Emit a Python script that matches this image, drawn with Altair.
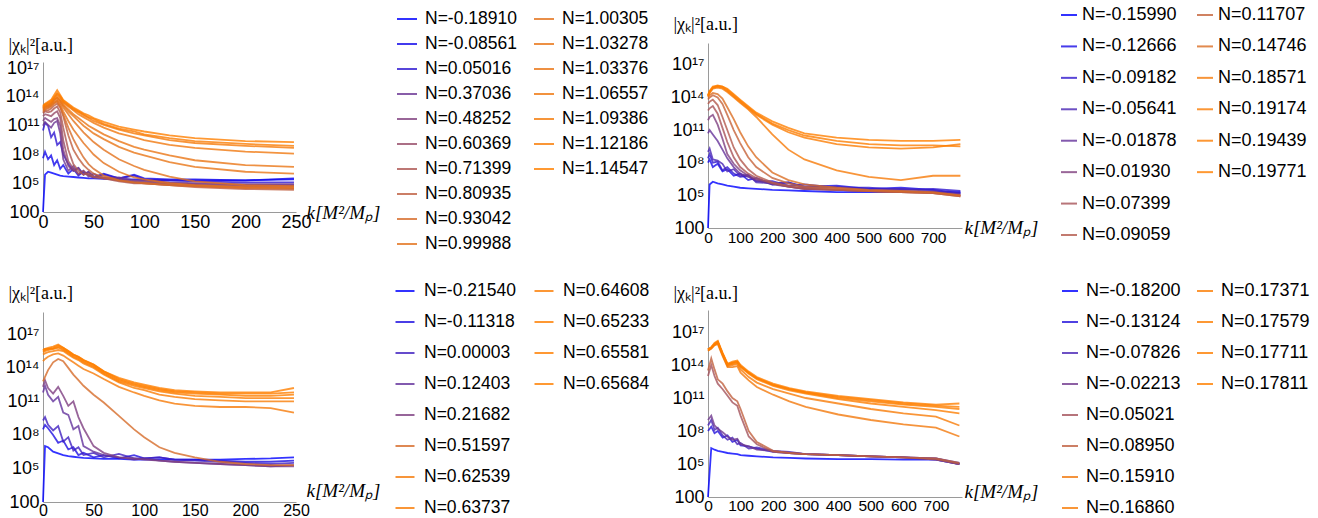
import altair as alt
import pandas as pd

FONT = "Liberation Sans"
SERIF = "Liberation Serif"

# ---------------- panel 1 (top left) ----------------
p1_N = ["-0.18910", "-0.08561", "0.05016", "0.37036", "0.48252", "0.60369", "0.71399",
        "0.80935", "0.93042", "0.99988", "1.00305", "1.03278", "1.03376", "1.06557",
        "1.09386", "1.12186", "1.14547"]
p1_k = [0, 2, 5, 8, 11, 14, 17, 20, 25, 30, 35, 40, 45, 50, 60, 75, 90, 100, 125, 150, 200, 248]
p1_log = [
    [2.0, 5.9, 6.2, 6.1, 6.0, 5.9, 5.8, 5.75, 5.7, 5.65, 5.6, 5.55, 5.5, 5.5, 5.45, 5.4, 5.4, 5.35, 5.3, 5.3, 5.3, 5.4],
    [7.6, 8.3, 7.5, 7.9, 6.9, 7.4, 6.5, 6.9, 6.0, 6.5, 5.8, 6.2, 5.9, 5.6, 6.0, 5.5, 5.9, 5.5, 5.4, 5.4, 5.3, 5.5],
    [10.5, 11.3, 11.0, 9.8, 10.3, 9.0, 9.3, 8.0, 7.0, 6.3, 6.6, 5.9, 6.2, 5.7, 5.9, 5.5, 5.8, 5.4, 5.3, 5.2, 5.1, 5.1],
    [11.0, 11.4, 11.1, 10.8, 11.3, 11.5, 10.2, 7.5, 6.3, 6.8, 5.9, 6.3, 5.7, 6.0, 5.5, 5.6, 5.3, 5.3, 5.1, 5.0, 4.9, 4.9],
    [11.5, 11.8, 11.6, 11.4, 11.7, 11.8, 11.0, 8.5, 6.8, 6.3, 6.6, 5.9, 6.2, 5.7, 5.6, 5.4, 5.2, 5.2, 5.0, 4.9, 4.8, 4.8],
    [12.0, 12.2, 12.1, 12.0, 12.3, 12.5, 11.8, 9.5, 7.3, 6.5, 6.0, 6.3, 5.8, 5.6, 5.5, 5.3, 5.1, 5.1, 4.9, 4.8, 4.7, 4.7],
    [12.3, 12.5, 12.4, 12.5, 12.8, 13.0, 12.4, 10.8, 8.5, 7.0, 6.3, 5.9, 6.0, 5.7, 5.5, 5.2, 5.0, 5.0, 4.8, 4.7, 4.6, 4.5],
    [12.4, 12.6, 12.6, 12.8, 13.1, 13.3, 12.9, 12.0, 10.0, 8.5, 7.6, 6.9, 6.4, 6.0, 5.6, 5.3, 5.1, 5.0, 4.8, 4.6, 4.4, 4.3],
    [12.5, 12.7, 12.8, 13.0, 13.3, 13.5, 13.0, 12.2, 10.8, 9.6, 8.6, 7.7, 7.0, 6.5, 5.8, 5.3, 5.1, 5.0, 4.8, 4.7, 4.5, 4.45],
    [12.6, 12.8, 12.9, 13.1, 13.4, 13.6, 13.2, 12.5, 11.5, 10.6, 9.9, 9.2, 8.6, 8.0, 7.1, 6.2, 5.6, 5.4, 5.0, 4.8, 4.6, 4.55],
    [12.7, 12.9, 13.0, 13.2, 13.5, 13.7, 13.4, 12.9, 12.2, 11.5, 10.9, 10.3, 9.8, 9.3, 8.5, 7.5, 6.8, 6.4, 5.7, 5.2, 4.8, 4.7],
    [12.8, 13.0, 13.1, 13.3, 13.7, 13.9, 13.6, 13.1, 12.5, 12.0, 11.5, 11.0, 10.6, 10.2, 9.6, 8.8, 8.2, 7.9, 7.2, 6.7, 6.2, 6.0],
    [12.8, 13.0, 13.1, 13.3, 13.7, 13.9, 13.6, 13.2, 12.7, 12.2, 11.8, 11.4, 11.0, 10.7, 10.1, 9.4, 8.8, 8.5, 7.9, 7.4, 6.9, 6.7],
    [12.9, 13.1, 13.2, 13.4, 13.8, 14.1, 13.8, 13.4, 13.0, 12.6, 12.2, 11.9, 11.6, 11.3, 10.8, 10.2, 9.8, 9.5, 9.0, 8.7, 8.3, 8.1],
    [13.0, 13.2, 13.3, 13.5, 13.9, 14.3, 14.0, 13.5, 13.1, 12.7, 12.4, 12.1, 11.8, 11.5, 11.1, 10.6, 10.2, 10.0, 9.5, 9.2, 8.9, 8.7],
    [13.0, 13.2, 13.4, 13.6, 14.0, 14.4, 14.1, 13.6, 13.2, 12.8, 12.5, 12.2, 11.9, 11.7, 11.2, 10.7, 10.4, 10.1, 9.7, 9.4, 9.1, 8.9],
    [13.1, 13.3, 13.5, 13.7, 14.2, 14.7, 14.2, 13.7, 13.3, 12.9, 12.6, 12.3, 12.1, 11.8, 11.4, 10.9, 10.6, 10.4, 10.0, 9.7, 9.4, 9.3],
]

# ---------------- panel 2 (top right) ----------------
p2_N = ["-0.15990", "-0.12666", "-0.09182", "-0.05641", "-0.01878", "0.01930", "0.07399",
        "0.09059", "0.11707", "0.14746", "0.18571", "0.19174", "0.19439", "0.19771"]
p2_k = [0, 5, 15, 30, 45, 60, 80, 100, 125, 150, 200, 250, 300, 400, 500, 600, 700, 785]
p2_log = [
    [2.0, 6.0, 6.25, 6.1, 6.0, 5.9, 5.8, 5.7, 5.65, 5.6, 5.5, 5.45, 5.4, 5.3, 5.3, 5.3, 5.3, 5.3],
    [8.0, 8.3, 7.6, 7.9, 7.2, 7.4, 6.8, 7.0, 6.4, 6.6, 6.0, 6.2, 5.8, 5.9, 5.6, 5.7, 5.5, 5.2],
    [8.4, 8.8, 8.0, 8.1, 7.3, 7.6, 7.0, 6.7, 6.8, 6.3, 6.3, 5.9, 6.0, 5.7, 5.7, 5.5, 5.6, 5.4],
    [9.0, 9.3, 8.3, 8.2, 7.9, 7.2, 7.4, 6.8, 6.9, 6.2, 6.1, 6.2, 5.7, 5.8, 5.5, 5.6, 5.4, 5.2],
    [10.7, 11.0, 10.6, 10.0, 9.2, 8.4, 7.6, 7.0, 6.7, 6.4, 6.0, 5.8, 5.6, 5.5, 5.4, 5.4, 5.3, 5.1],
    [11.9, 12.2, 12.4, 11.5, 10.2, 8.8, 7.9, 7.3, 6.8, 6.5, 6.1, 5.8, 5.6, 5.5, 5.4, 5.3, 5.3, 5.0],
    [12.8, 13.0, 13.2, 12.5, 11.2, 9.9, 8.5, 7.6, 7.0, 6.6, 6.1, 5.8, 5.6, 5.5, 5.4, 5.3, 5.2, 5.0],
    [13.4, 13.6, 13.8, 13.3, 12.2, 11.0, 9.4, 8.3, 7.4, 6.8, 6.2, 5.9, 5.7, 5.5, 5.4, 5.3, 5.2, 4.9],
    [13.8, 14.0, 14.2, 14.0, 13.4, 12.4, 11.0, 9.8, 8.5, 7.6, 6.6, 6.1, 5.8, 5.6, 5.4, 5.3, 5.2, 4.9],
    [14.0, 14.2, 14.4, 14.3, 13.9, 13.1, 12.0, 10.8, 9.5, 8.5, 7.1, 6.4, 6.0, 5.7, 5.5, 5.4, 5.3, 5.0],
    [14.1, 14.4, 14.8, 14.9, 14.8, 14.5, 14.0, 13.5, 12.9, 12.2, 10.6, 9.2, 8.3, 7.3, 6.7, 6.4, 6.8, 6.8],
    [14.1, 14.5, 14.9, 15.0, 14.9, 14.6, 14.1, 13.6, 13.0, 12.4, 11.5, 10.8, 10.3, 9.7, 9.4, 9.3, 9.4, 9.7],
    [14.2, 14.5, 14.9, 15.05, 15.0, 14.7, 14.2, 13.7, 13.1, 12.5, 11.6, 11.0, 10.5, 10.0, 9.7, 9.6, 9.6, 9.5],
    [14.2, 14.6, 15.0, 15.1, 15.0, 14.8, 14.3, 13.8, 13.2, 12.6, 11.8, 11.2, 10.7, 10.3, 10.1, 10.0, 10.0, 10.1],
]

# ---------------- panel 3 (bottom left) ----------------
p3_N = ["-0.21540", "-0.11318", "0.00003", "0.12403", "0.21682", "0.51597", "0.62539",
        "0.63737", "0.64608", "0.65233", "0.65581", "0.65684"]
p3_k = [0, 2, 5, 10, 15, 20, 25, 30, 35, 40, 50, 60, 75, 90, 100, 115, 130, 150, 175, 200, 225, 248]
p3_log = [
    [2.0, 7.0, 6.9, 6.5, 6.35, 6.2, 6.1, 6.05, 6.0, 5.95, 5.9, 5.85, 5.85, 5.8, 5.8, 5.8, 5.8, 5.8, 5.8, 5.85, 5.9, 6.0],
    [8.5, 8.9, 8.6, 8.0, 7.3, 7.5, 6.7, 6.9, 6.2, 6.4, 6.0, 6.2, 5.9, 6.2, 5.9, 6.0, 5.8, 5.8, 5.7, 5.6, 5.6, 5.7],
    [9.3, 9.6, 8.9, 8.4, 8.8, 7.4, 7.8, 6.6, 6.9, 6.2, 6.4, 6.0, 6.3, 5.9, 5.9, 6.0, 5.8, 5.7, 5.6, 5.5, 5.4, 5.5],
    [11.8, 12.4, 11.6, 11.0, 11.4, 10.0, 9.8, 8.5, 8.8, 7.0, 6.5, 6.2, 6.0, 5.8, 5.9, 5.7, 5.6, 5.5, 5.4, 5.3, 5.2, 5.3],
    [12.3, 12.9, 12.2, 11.7, 12.3, 11.5, 10.6, 11.0, 9.6, 8.6, 7.0, 6.4, 6.0, 5.9, 5.8, 5.7, 5.6, 5.5, 5.4, 5.3, 5.2, 5.2],
    [12.8, 13.2, 13.8, 14.5, 14.8, 14.6, 14.0, 13.4, 12.9, 12.4, 11.6, 10.9, 9.7, 8.5, 7.8, 6.9, 6.4, 6.0, 5.6, 5.4, 5.3, 5.3],
    [14.6, 14.8, 15.0, 15.2, 15.3, 15.1, 14.8, 14.5, 14.2, 13.9, 13.5, 13.0, 12.3, 11.8, 11.5, 11.1, 10.8, 10.6, 10.5, 10.5, 10.4, 10.0],
    [15.2, 15.3, 15.4, 15.5, 15.6, 15.5, 15.2, 14.9, 14.7, 14.4, 14.0, 13.4, 12.7, 12.2, 12.0, 11.6, 11.4, 11.2, 11.1, 11.0, 11.0, 11.0],
    [15.4, 15.5, 15.6, 15.7, 15.8, 15.6, 15.3, 15.0, 14.8, 14.5, 14.1, 13.5, 12.8, 12.4, 12.2, 11.9, 11.7, 11.5, 11.4, 11.3, 11.3, 11.3],
    [15.5, 15.6, 15.7, 15.7, 15.9, 15.7, 15.4, 15.1, 14.9, 14.6, 14.2, 13.6, 12.9, 12.5, 12.3, 12.0, 11.8, 11.7, 11.6, 11.5, 11.5, 11.6],
    [15.6, 15.7, 15.7, 15.8, 16.0, 15.8, 15.5, 15.2, 15.0, 14.7, 14.3, 13.7, 13.0, 12.6, 12.4, 12.1, 11.9, 11.8, 11.7, 11.7, 11.7, 11.8],
    [15.6, 15.7, 15.8, 15.9, 16.1, 15.8, 15.5, 15.2, 15.0, 14.7, 14.3, 13.7, 13.1, 12.7, 12.5, 12.2, 12.0, 11.9, 11.8, 11.8, 11.8, 12.2],
]

# ---------------- panel 4 (bottom right) ----------------
p4_N = ["-0.18200", "-0.13124", "-0.07826", "-0.02213", "0.05021", "0.08950", "0.15910",
        "0.16860", "0.17371", "0.17579", "0.17711", "0.17811"]
p4_k = [0, 10, 20, 30, 45, 60, 75, 90, 100, 125, 150, 200, 250, 300, 400, 500, 600, 700, 772]
p4_log = [
    [2.0, 6.45, 6.3, 6.2, 6.1, 6.0, 5.95, 5.9, 5.8, 5.75, 5.7, 5.6, 5.55, 5.5, 5.45, 5.45, 5.4, 5.4, 5.0],
    [8.0, 8.4, 7.8, 8.0, 7.4, 7.6, 7.0, 7.2, 6.7, 6.6, 6.4, 6.1, 6.0, 5.9, 5.8, 5.7, 5.6, 5.4, 5.0],
    [8.5, 9.0, 8.1, 8.3, 7.6, 7.2, 7.4, 6.8, 6.9, 6.4, 6.5, 6.2, 6.1, 5.9, 5.8, 5.7, 5.6, 5.5, 5.1],
    [9.0, 9.4, 8.5, 8.2, 7.9, 7.5, 7.2, 7.3, 6.8, 6.6, 6.3, 6.2, 6.0, 5.9, 5.8, 5.7, 5.6, 5.5, 5.0],
    [13.0, 14.0, 13.0, 12.3, 11.8, 11.2, 10.6, 10.3, 9.4, 7.5, 6.8, 6.1, 6.0, 5.9, 5.8, 5.7, 5.6, 5.4, 5.0],
    [13.5, 14.6, 13.6, 12.7, 12.3, 11.6, 11.0, 10.7, 10.0, 8.0, 7.0, 6.2, 6.0, 5.9, 5.8, 5.7, 5.6, 5.5, 5.1],
    [15.3, 15.5, 15.8, 15.9, 14.8, 13.8, 13.8, 13.9, 13.3, 12.6, 12.0, 11.3, 10.7, 10.2, 9.5, 9.0, 8.6, 8.3, 7.5],
    [15.3, 15.5, 15.8, 16.0, 14.9, 13.9, 14.0, 14.1, 13.6, 12.9, 12.4, 11.8, 11.4, 11.0, 10.5, 10.0, 9.6, 9.3, 8.5],
    [15.4, 15.6, 15.9, 16.1, 15.0, 14.0, 14.1, 14.2, 13.8, 13.2, 12.7, 12.1, 11.7, 11.4, 10.9, 10.5, 10.2, 9.9, 9.6],
    [15.4, 15.6, 15.9, 16.1, 15.0, 14.0, 14.2, 14.3, 13.9, 13.3, 12.8, 12.2, 11.8, 11.5, 11.0, 10.7, 10.4, 10.2, 10.0],
    [15.4, 15.6, 15.9, 16.1, 15.0, 14.1, 14.2, 14.3, 13.9, 13.3, 12.8, 12.2, 11.8, 11.5, 11.1, 10.8, 10.5, 10.3, 10.2],
    [15.4, 15.6, 16.0, 16.2, 15.1, 14.1, 14.3, 14.4, 14.0, 13.4, 12.9, 12.3, 11.9, 11.6, 11.2, 10.9, 10.6, 10.4, 10.5],
]

y_ticks = [1e2, 1e5, 1e8, 1e11, 1e14, 1e17]
y_tick_text = {2: "100", 5: "10\u2075", 8: "10\u2078", 11: "10\u00b9\u00b9", 14: "10\u00b9\u2074", 17: "10\u00b9\u2077"}
x_ticks_short = [0, 50, 100, 150, 200, 250]
x_ticks_long = [0, 100, 200, 300, 400, 500, 600, 700]

Y_TITLE = "|\u03c7\u2096|\u00b2[a.u.]"
X_TITLE = "k[M\u00b2/M\u209a]"

CELL_W, CELL_H = 659, 259

label_expr = "".join(
    f"round(log(datum.value)/LN10) == {e} ? '{t}' : " for e, t in y_tick_text.items()
) + "''"


def blend(t):
    r, g, b = t, 0.5 * t, 1.0 - t
    return "#%02x%02x%02x" % (round(255 * r), round(255 * g), round(255 * b))


def panel(labels, ks, logs, g):
    names = ["N=" + s for s in labels]
    nums = [float(s) for s in labels]
    lo, hi = min(nums), max(nums)
    colors = [blend((v - lo) / (hi - lo)) for v in nums]
    recs = []
    for name, series in zip(names, logs):
        for k, lv in zip(ks, series):
            recs.append({"series": name, "k": k, "chi": 10 ** lv})
    df = pd.DataFrame(recs)
    nr = g["rows"]
    leg = pd.DataFrame({
        "series": names,
        "col": [i // nr for i in range(len(names))],
        "row": [i % nr for i in range(len(names))],
    })
    color = alt.Color("series:N", scale=alt.Scale(domain=names, range=colors), legend=None)

    x_axis = alt.Axis(
        values=g["xticks"], offset=g["xoff"], ticks=False, grid=False,
        domainColor="#9a9a9a", domainWidth=1,
        labelFont=FONT, labelFontSize=g["xfs"], labelColor="black", labelPadding=g["xlp"],
        labelFlush=False, labelOverlap=False,
        title=X_TITLE, titleFont=SERIF, titleFontStyle="italic", titleFontWeight="normal",
        titleFontSize=19, titleColor="black", titleAngle=0, titleAlign="left",
        titleBaseline="middle", titleX=g["xtx"], titleY=g["xty"],
    )
    y_axis = alt.Axis(
        values=y_ticks, offset=g["yoff"], ticks=False, grid=False,
        domainColor="#9a9a9a", domainWidth=1, labelExpr=label_expr,
        labelFont=FONT, labelFontSize=18, labelColor="black", labelPadding=4,
        labelFlush=False, labelOverlap=False,
        title=Y_TITLE, titleFont=SERIF, titleFontWeight="normal", titleFontSize=18,
        titleColor="black", titleAngle=0, titleAlign="left", titleBaseline="middle",
        titleX=g["ytx"], titleY=g["yty"],
    )
    lines = alt.Chart(df).mark_line(strokeWidth=1.8, opacity=0.8, clip=True).encode(
        x=alt.X("k:Q", scale=alt.Scale(domain=[0, g["xmax"]], range=g["xr"], nice=False, zero=False), axis=x_axis),
        y=alt.Y("chi:Q", scale=alt.Scale(type="log", domain=[1e2, g["ytop"]], range=g["yr"], nice=False), axis=y_axis),
        color=color,
    )
    lx = alt.X("col:Q", scale=alt.Scale(domain=[0, 1], range=g["lx"], nice=False, zero=False), axis=None)
    ly = alt.Y("row:Q", scale=alt.Scale(domain=[0, nr - 1], range=g["ly"], nice=False, zero=False), axis=None)
    sym = alt.Chart(leg).mark_point(shape="stroke", size=g["sym"] ** 2, strokeWidth=2, opacity=0.8, filled=False).encode(
        x=lx, y=ly, color=color)
    txt = alt.Chart(leg).mark_text(align="left", baseline="middle", dx=g["dx"], font=FONT,
                                   fontSize=g["fs"], color="black").encode(x=lx, y=ly, text="series:N")
    return alt.layer(lines, sym, txt).resolve_scale(x="independent", y="independent").properties(
        width=CELL_W, height=CELL_H)


g1 = dict(rows=10, xticks=x_ticks_short, xmax=250, xr=[43, 296], ytop=10 ** 17.65, yr=[212, 62],
          xoff=-(CELL_H - 212), yoff=-43, xtx=306, xty=0, ytx=-35, yty=45, xfs=18, xlp=1,
          lx=[407, 544], ly=[19, 244], dx=18, sym=20, fs=17.5)
g2 = dict(rows=8, xticks=x_ticks_long, xmax=790, xr=[49, 303], ytop=1e19, yr=[228, 43],
          xoff=-(CELL_H - 228), yoff=-49, xtx=305, xty=-1, ytx=-35, yty=24, xfs=15.5, xlp=2,
          lx=[410, 546], ly=[15, 235], dx=13, sym=16, fs=18)
g3 = dict(rows=8, xticks=x_ticks_short, xmax=250, xr=[43, 296], ytop=1e19, yr=[243, 53],
          xoff=-(CELL_H - 243), yoff=-43, xtx=306, xty=-12, ytx=-35, yty=34, xfs=16, xlp=0,
          lx=[405, 544], ly=[32, 249], dx=19, sym=19, fs=17.5)
g4 = dict(rows=8, xticks=x_ticks_long, xmax=780, xr=[49, 303], ytop=1e19, yr=[238, 51],
          xoff=-(CELL_H - 238), yoff=-49, xtx=305, xty=-6, ytx=-35, yty=34, xfs=15.5, xlp=1,
          lx=[411, 546], ly=[32, 249], dx=16, sym=16, fs=18)

c1 = panel(p1_N, p1_k, p1_log, g1)
c2 = panel(p2_N, p2_k, p2_log, g2)
c3 = panel(p3_N, p3_k, p3_log, g3)
c4 = panel(p4_N, p4_k, p4_log, g4)

chart = alt.concat(c1, c2, c3, c4, columns=2, spacing=0, bounds="flush").resolve_scale(
    color="independent"
).properties(padding=0, background="white").configure_view(stroke=None)

chart.save("out.html", embed_options={"renderer": "svg", "actions": False})
